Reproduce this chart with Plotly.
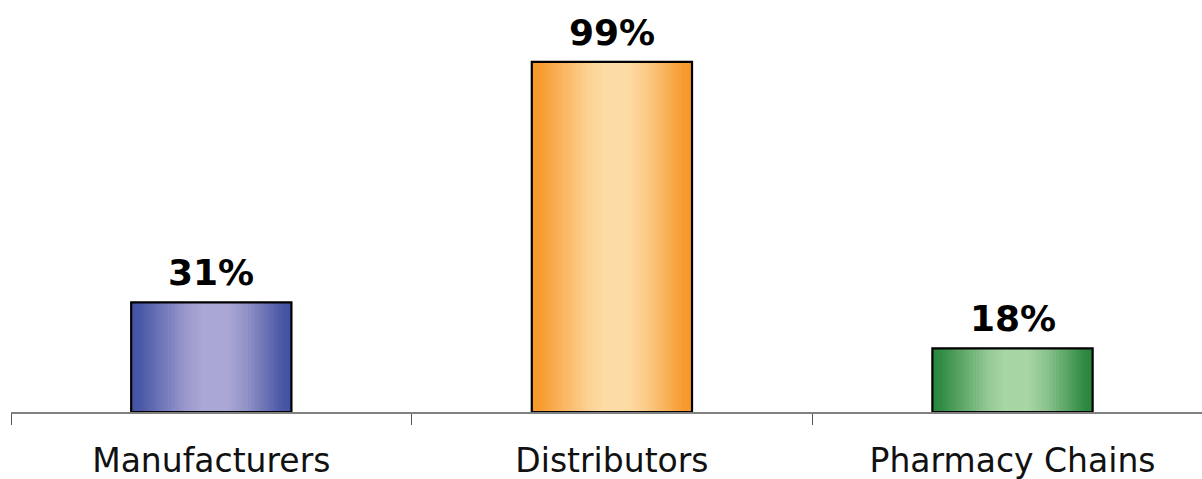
import plotly.graph_objects as go

categories = ["Manufacturers", "Distributors", "Pharmacy Chains"]
values = [31, 99, 18]
value_labels = ["31%", "99%", "18%"]
edge_colors = ["#4353A3", "#F7982A", "#2A873E"]
light_colors = ["#ABA7D4", "#FDDBA5", "#A8D5A4"]

BAR_W = 0.4
N_STRIPS = 48
# gradient profile across the bar width: 0 = edge colour, 1 = light colour
PROFILE = [(0.0, 0.0), (0.05, 0.05), (0.2, 0.45), (0.35, 0.85), (0.45, 1.0),
           (0.6, 1.0), (0.72, 0.75), (0.85, 0.35), (0.95, 0.03), (1.0, 0.0)]


def hex2rgb(h):
    h = h.lstrip("#")
    return tuple(int(h[i:i + 2], 16) for i in (0, 2, 4))


def profile(t):
    for (t0, m0), (t1, m1) in zip(PROFILE[:-1], PROFILE[1:]):
        if t0 <= t <= t1:
            return m0 + (m1 - m0) * (t - t0) / (t1 - t0)
    return 0.0


def mix(c0, c1, m):
    a, b = hex2rgb(c0), hex2rgb(c1)
    return "rgb(%d,%d,%d)" % tuple(round(a[k] + (b[k] - a[k]) * m) for k in range(3))


fig = go.Figure()
step = BAR_W / N_STRIPS
for i in range(N_STRIPS):
    off = -BAR_W / 2 + i * step
    w = min(step * 1.7, BAR_W / 2 - off)
    m = profile((i + 0.5) / N_STRIPS)
    fig.add_trace(go.Bar(
        x=categories, y=values, width=w, offset=off,
        marker=dict(color=[mix(e, l, m) for e, l in zip(edge_colors, light_colors)],
                    line=dict(width=0)),
        showlegend=False, hoverinfo="skip",
    ))

fig.add_trace(go.Bar(
    x=categories, y=values, width=BAR_W,
    marker=dict(color="rgba(0,0,0,0)", line=dict(color="black", width=2.2)),
    showlegend=False,
))

for c, v, t in zip(categories, values, value_labels):
    fig.add_annotation(x=c, y=v, text=t, showarrow=False, yanchor="bottom",
                       yshift=7, font=dict(family="DejaVu Sans", size=36, color="black",
                                           weight="bold"))

fig.update_layout(
    width=1202, height=479,
    margin=dict(l=11, r=0, t=0, b=67),
    paper_bgcolor="white", plot_bgcolor="white",
    barmode="overlay",
    font=dict(family="DejaVu Sans", color="#111111"),
    xaxis=dict(
        type="category", range=[-0.5, 2.473], automargin=False,
        showline=True, linecolor="#808080", linewidth=1.5,
        ticks="outside", tickson="boundaries", ticklen=11, tickcolor="#555555",
        tickwidth=1, ticklabelstandoff=19,
        tickfont=dict(size=33, color="#111111", family="DejaVu Sans"),
        showgrid=False, zeroline=False,
    ),
    yaxis=dict(range=[0, 116.5], visible=False, showgrid=False, zeroline=False,
               automargin=False),
)

fig.write_html("out.html")
